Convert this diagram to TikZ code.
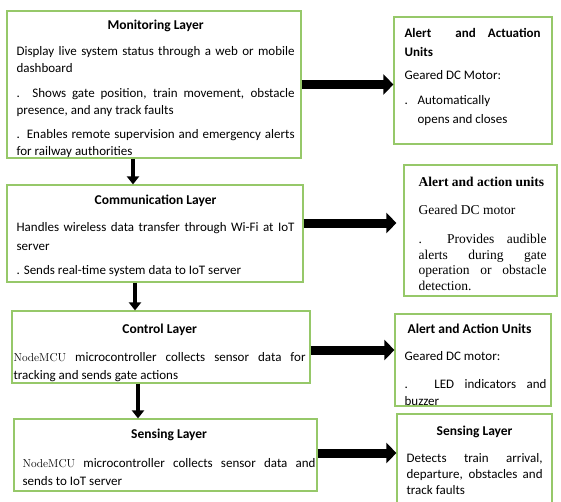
\documentclass[tikz,border=0pt]{standalone}
\usepackage{fontspec}
\setsansfont{Carlito}
\renewcommand{\familydefault}{\sfdefault}
\newfontfamily\timesfont{Liberation Serif}
\usetikzlibrary{arrows.meta}
\definecolor{boxgreen}{RGB}{150,200,105}
\newcommand{\nodemcu}{\textrm{\fontsize{11.5}{11}\selectfont NodeMCU}}
\newcommand{\boxtitle}{\bfseries\fontsize{13.5}{18}\selectfont}
\hyphenpenalty=10000
\exhyphenpenalty=10000
\tolerance=9999

\begin{document}
\begin{tikzpicture}[x=1pt,y=-1pt]
\tikzstyle{layer}=[draw=boxgreen,line width=1.2pt,inner sep=0pt]
\tikzstyle{txt}=[anchor=north west,inner sep=0pt,align=justify,font=\fontsize{13}{18}\selectfont]
\tikzstyle{bigarrow}=[line width=9pt,-{Triangle[length=10pt,width=20pt]}]
\tikzstyle{downarrow}=[line width=4.5pt,-{Triangle[length=8pt,width=12pt]}]
\useasboundingbox (0,0) rectangle (561,501);

\node[layer,minimum width=294pt,minimum height=147pt] (mon) at (154,84.5) {};
\node[layer,minimum width=296pt,minimum height=97pt] (com) at (155,233.5) {};
\node[layer,minimum width=298pt,minimum height=72pt] (ctl) at (161,347) {};
\node[layer,minimum width=303pt,minimum height=72pt] (sen) at (165.5,455) {};
\node[layer,minimum width=158pt,minimum height=127pt] (outA) at (473,80.5) {};
\node[layer,minimum width=153pt,minimum height=131pt] (outB) at (480.5,230.5) {};
\node[layer,minimum width=156pt,minimum height=92pt] (outC) at (473,360) {};
\node[layer,minimum width=155pt,minimum height=92pt] (outD) at (474.5,460) {};

\node[txt,text width=278pt,font=\fontsize{13}{17}\selectfont] (montxt) at ([xshift=10pt,yshift=-9pt]mon.north west) {%
{\centering\boxtitle Monitoring Layer\par}\vspace{9pt}
Display live system status through a web or mobile dashboard\par\vspace{8pt}
. Shows gate position, train movement, obstacle presence, and any track faults\par\vspace{7pt}
. Enables remote supervision and emergency alerts for railway authorities};
\node[txt,text width=278pt,font=\fontsize{13}{19}\selectfont] (comtxt) at ([xshift=10pt,yshift=-10pt]com.north west) {%
{\centering\boxtitle Communication Layer\par}\vspace{8pt}
Handles wireless data transfer through Wi-Fi at IoT server\par\vspace{5pt}
. Sends real-time system data to IoT server};
\node[txt,text width=292pt] (ctltxt) at ([xshift=2pt,yshift=-13pt]ctl.north west) {%
{\centering\boxtitle Control Layer\par}\vspace{10pt}
\nodemcu{} microcontroller collects sensor data for tracking and sends gate actions};
\node[txt,text width=293pt] (sentxt) at ([xshift=9pt,yshift=-10pt]sen.north west) {%
{\centering\boxtitle Sensing Layer\par}\vspace{11pt}
\nodemcu{} microcontroller collects sensor data and\linebreak sends to IoT server};

\node[txt,text width=136pt,font=\fontsize{13}{19}\selectfont] (outAtxt) at ([xshift=11pt,yshift=-12pt]outA.north west) {%
{\bfseries Alert\ \ and Actuation\linebreak Units\par}\vspace{4pt}
Geared DC Motor:\par\vspace{6pt}
{\hangindent=13pt\hangafter=1\noindent\makebox[13pt][l]{.}Automatically\newline opens and closes\par}};
\node[txt,text width=128pt,font=\timesfont\fontsize{13.5}{15.5}\selectfont] (outBtxt) at ([xshift=15pt,yshift=-13pt]outB.north west) {%
{\bfseries Alert and action units\par}\vspace{12.5pt}
Geared DC motor\par\vspace{13.5pt}
.\ \ Provides audible alerts during gate operation or obstacle detection.};
\node[txt,text width=142pt,font=\fontsize{13}{17.5}\selectfont] (outCtxt) at ([xshift=10pt,yshift=-10pt]outC.north west) {%
{\boxtitle\ Alert and Action Units\par}\vspace{9.5pt}
Geared DC motor:\par\vspace{10.5pt}
. LED indicators and\linebreak buzzer};
\node[txt,text width=136pt,font=\fontsize{13}{16}\selectfont] (outDtxt) at ([xshift=10pt,yshift=-12pt]outD.north west) {%
{\centering\boxtitle Sensing Layer\par}\vspace{11pt}
Detects train arrival, departure, obstacles and track faults};

\draw[downarrow] ([xshift=-21pt]mon.south) -- ([xshift=-21pt]mon.south |- com.north);
\draw[downarrow] ([xshift=-20pt]com.south) -- ([xshift=-20pt]com.south |- ctl.north);
\draw[downarrow] ([xshift=-23pt]ctl.south) -- ([xshift=-23pt]ctl.south |- sen.north);

\coordinate (h2) at ([yshift=10.5pt]com.east);
\coordinate (h3) at ([yshift=-3pt]ctl.east);
\coordinate (h4) at ([yshift=2pt]sen.east);
\draw[bigarrow] (mon.east) -- (mon.east -| outA.west);
\draw[bigarrow,shorten >=7pt] (h2) -- (h2 -| outB.west);
\draw[bigarrow] (h3) -- (h3 -| outC.west);
\draw[bigarrow] (h4) -- (h4 -| outD.west);
\end{tikzpicture}
\end{document}
